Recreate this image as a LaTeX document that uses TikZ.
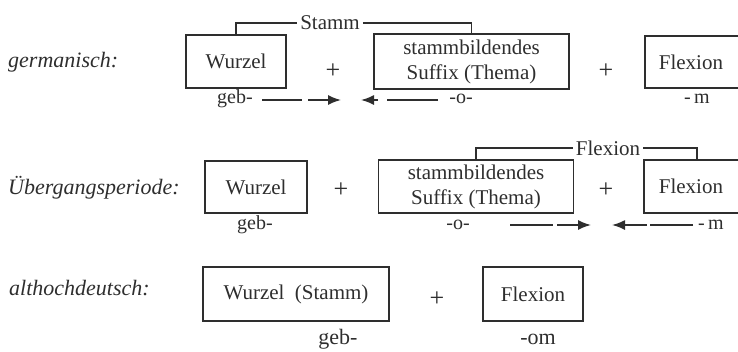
\documentclass[tikz,border=0pt]{standalone}
\usepackage{fontspec}
\setmainfont{Liberation Serif}
\usetikzlibrary{arrows.meta}
\definecolor{ink}{HTML}{2E2E2E}
\begin{document}
\begin{tikzpicture}[x=1pt,y=-1pt,
  box/.style={draw=ink, line width=1.8pt, inner sep=0pt, align=center, text=ink,
    font=\fontsize{21}{25}\selectfont},
  txt/.style={inner sep=0pt, text=ink, font=\fontsize{20}{24}\selectfont},
  big/.style={inner sep=0pt, text=ink, font=\fontsize{22}{24}\selectfont},
  pl/.style={inner sep=0pt, text=ink, font=\fontsize{26}{26}\selectfont},
  lab/.style={inner sep=0pt, anchor=west, text=ink, font=\fontsize{22}{24}\selectfont\itshape},
  brl/.style={inner xsep=3pt, inner ysep=0pt, text=ink, font=\fontsize{21}{24}\selectfont},
  br/.style={draw=ink, line width=1.6pt},
  arr/.style={draw=ink, line width=1.6pt, -{Latex[length=13pt,width=10pt]}},
]
\useasboundingbox (0,0) rectangle (738,351);

% Row 1
\node[lab] (l1) at (8,62) {germanisch:};
\node[box, minimum width=100pt, minimum height=53pt] (w1) at (236,61.5) {Wurzel};
\node[pl] (p1) at (333,71) {+};
\node[box, minimum width=195pt, minimum height=55pt] (s1) at (471.5,61.5) {stammbildendes\\Suffix (Thema)};
\node[pl] (p2) at (606,71) {+};
\node[box, minimum width=100pt, minimum height=52pt, anchor=west] (f1) at (644,62) {\hspace*{-8pt}Flexion};
\node[txt] (m1) at (697,99) {-\,m};
\node[txt] (g1) at (235,99) {geb-};
\node[txt] (o1) at (461,99) {-o-};
\node[brl] (st) at (330,23) {Stamm};
\draw[br] (w1.north) |- (st.west);
\draw[br] (st.east) -| (s1.north);
\draw[br] (262,100) -- (302,100);
\draw[arr] (308,100) -- (341,100);
\draw[br] (438,100) -- (387,100);
\draw[arr] (378,100) -- (361,100);

% Row 2
\node[lab] (l2) at (8,188) {Übergangsperiode:};
\node[box, minimum width=102pt, minimum height=52pt] (w2) at (256,187) {Wurzel};
\node[txt] (g2) at (255,225) {geb-};
\node[pl] (p3) at (341,190) {+};
\node[box, minimum width=195pt, minimum height=53pt] (s2) at (476,186.5) {stammbildendes\\Suffix (Thema)};
\node[pl] (p4) at (606,190) {+};
\node[box, minimum width=106pt, minimum height=53pt, anchor=west] (f2) at (643,186.5) {\hspace*{-12pt}Flexion};
\node[brl] (fl) at (608,148) {Flexion};
\draw[br] (s2.north) |- (fl.west);
\draw[br] (fl.east) -| (f2.north);
\node[txt] (o2) at (458,225) {-o-};
\draw[br] (510,225) -- (553,225);
\draw[arr] (557,225) -- (591,225);
\draw[br] (693,225) -- (650,225);
\draw[arr] (647,225) -- (612,225);
\node[txt] (m2) at (711,225) {-\,m};

% Row 3
\node[lab] (l3) at (9,288) {althochdeutsch:};
\node[box, minimum width=186pt, minimum height=54pt] (ws) at (296,294) {Wurzel\enspace(Stamm)};
\node[pl] (p5) at (437,299) {+};
\node[box, minimum width=100pt, minimum height=54pt] (f3) at (533,294) {Flexion};
\node[big] (g3) at (338,339) {geb-};
\node[big] (om) at (538,339) {-om};
\end{tikzpicture}
\end{document}
